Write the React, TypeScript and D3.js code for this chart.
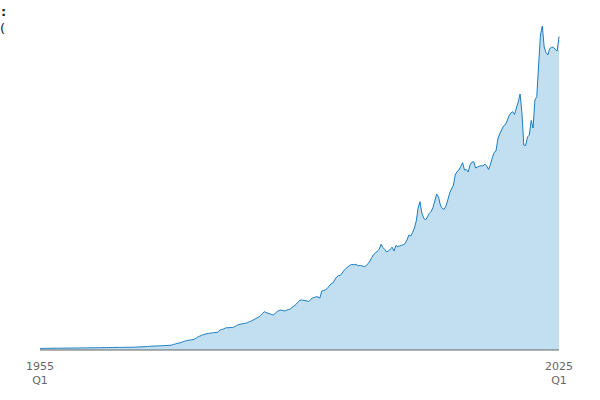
import React from 'react';
import * as d3 from 'd3';

// Quarterly series, 1955 Q1 .. 2025 Q1
const firstYear = 1955;
const lastYear = 2025;

const values1955to1979 = [
  1.6, 1.6, 1.6, 1.7, 1.7, 1.7, 1.7, 1.8, 1.8, 1.8, 1.8, 1.8, 1.8, 1.9, 1.9, 1.9,
  1.9, 2.0, 2.0, 2.0, 2.0, 2.0, 2.1, 2.1, 2.1, 2.1, 2.2, 2.2, 2.2, 2.2, 2.3, 2.3,
  2.3, 2.3, 2.4, 2.4, 2.4, 2.5, 2.5, 2.5, 2.5, 2.6, 2.6, 2.6, 2.6, 2.7, 2.7, 2.7,
  2.7, 2.8, 2.8, 2.8, 3.0, 3.1, 3.1, 3.2, 3.3, 3.4, 3.5, 3.6, 3.8, 3.9, 4.0, 4.0,
  4.1, 4.2, 4.3, 4.4, 4.5, 4.6, 4.7, 4.9, 5.6, 6.0, 6.6, 7.0, 7.4, 8.2, 8.8, 9.3,
  9.7, 10.0, 10.2, 10.6, 11.5, 12.8, 13.8, 14.4, 15.3, 15.8, 16.3, 16.6, 16.9, 17.1, 17.4, 17.6,
  17.7, 19.8, 20.5, 21.0,
];

const values1980to1999 = [
  22.0, 22.3, 22.3, 22.5, 22.6, 23.3, 24.3, 25.3, 25.7, 26.2, 26.6, 26.8,
  27.5, 28.3, 29.0, 30.0, 31.0, 32.0, 33.0, 34.5, 36.5, 38.3, 37.5, 36.8,
  36.2, 35.5, 35.0, 37.0, 38.5, 39.5, 40.0, 39.5, 39.0, 39.8, 40.5, 41.0,
  42.5, 44.0, 45.5, 47.5, 49.5, 50.0, 49.8, 49.5, 49.0, 48.5, 50.5, 52.0,
  52.5, 53.3, 53.0, 52.0, 59.0, 59.5, 60.3, 61.5, 64.0, 66.0, 67.0, 70.0,
  73.0, 74.3, 74.5, 77.0, 79.5, 81.5, 83.0, 84.5, 85.5, 85.3, 85.7, 85.0,
  84.3, 84.5, 84.0, 83.3, 84.3, 86.5, 89.0, 92.5,
];

const values2000to2025 = [
  95.5, 97.0, 99.0, 100.7, 105.7, 102.5, 100.5, 98.0, 99.0, 101.0, 102.7, 99.0,
  104.5, 103.5, 104.0, 104.7, 105.3, 106.5, 110.0, 115.0, 114.0, 117.5, 122.0, 129.0,
  142.0, 148.3, 137.0, 132.0, 130.0, 133.0, 136.5, 138.5, 142.5, 149.0, 156.0, 153.0,
  145.0, 141.5, 140.7, 144.0, 150.0, 157.0, 161.0, 164.5, 175.0, 178.5, 180.0, 183.5,
  187.3, 180.0, 180.5, 178.0, 185.0, 187.8, 188.3, 182.0, 183.0, 183.8, 184.3, 184.0,
  186.0, 184.0, 180.5, 185.5, 192.0, 197.5, 199.0, 211.0, 216.0, 220.0, 223.8, 225.3,
  229.0, 234.0, 237.0, 238.3, 235.5, 242.0, 248.0, 256.0, 237.0, 205.0, 204.5, 213.0,
  215.0, 229.5, 222.0, 250.0, 253.3, 285.0, 315.0, 324.0, 303.0, 297.5, 295.0, 301.5,
  302.7, 302.7, 300.5, 299.0, 313.5,
];

const values = [...values1955to1979, ...values1980to1999, ...values2000to2025];
const quarterLabels = values.map((_, i) => `${firstYear + Math.floor(i / 4)} Q${(i % 4) + 1}`);

const tickYears = [String(firstYear), String(lastYear)];
const tickQuarter = 'Q1';
const tickIndex = [0, (lastYear - firstYear) * 4];

const width = 600;
const height = 400;

const App: React.FC = () => {
  const x = d3.scaleLinear().domain([0, values.length - 1]).range([40, 559]);
  const y = d3.scaleLinear().domain([0, 330]).range([350, 20]);

  const area = d3.area<number>()
    .x((_, i) => x(i))
    .y0(y(0))
    .y1(d => y(d));
  const line = d3.line<number>()
    .x((_, i) => x(i))
    .y(d => y(d));

  return (
    <div style={{ position: 'absolute', left: 0, top: 0 }}>
      <svg width={width} height={height} style={{ display: 'block', fontFamily: 'DejaVu Sans, sans-serif' }}>
        <rect width={width} height={height} fill="#fff" />
        <text x={1} y={16} fontSize={13} fontWeight="bold" fill="#222">:</text>
        <text x={0} y={33} fontSize={13} fill="#222">(</text>

        <path d={area(values) ?? ''} fill="#c1dff0" />
        <path d={line(values) ?? ''} fill="none" stroke="#1b7ec2" strokeWidth={1} />
        <title>{quarterLabels[0]} – {quarterLabels[quarterLabels.length - 1]}</title>

        <line x1={x(0)} x2={x(values.length - 1)} y1={y(0)} y2={y(0)} stroke="#666" strokeWidth={1.2} />
        {tickIndex.map((ti, k) => (
          <g key={ti} transform={`translate(${x(ti)},0)`}>
            <text y={370} textAnchor="middle" fontSize={11} fill="#666">{tickYears[k]}</text>
            <text y={384} textAnchor="middle" fontSize={11} fill="#666">{tickQuarter}</text>
          </g>
        ))}
      </svg>
    </div>
  );
};

export default App;
